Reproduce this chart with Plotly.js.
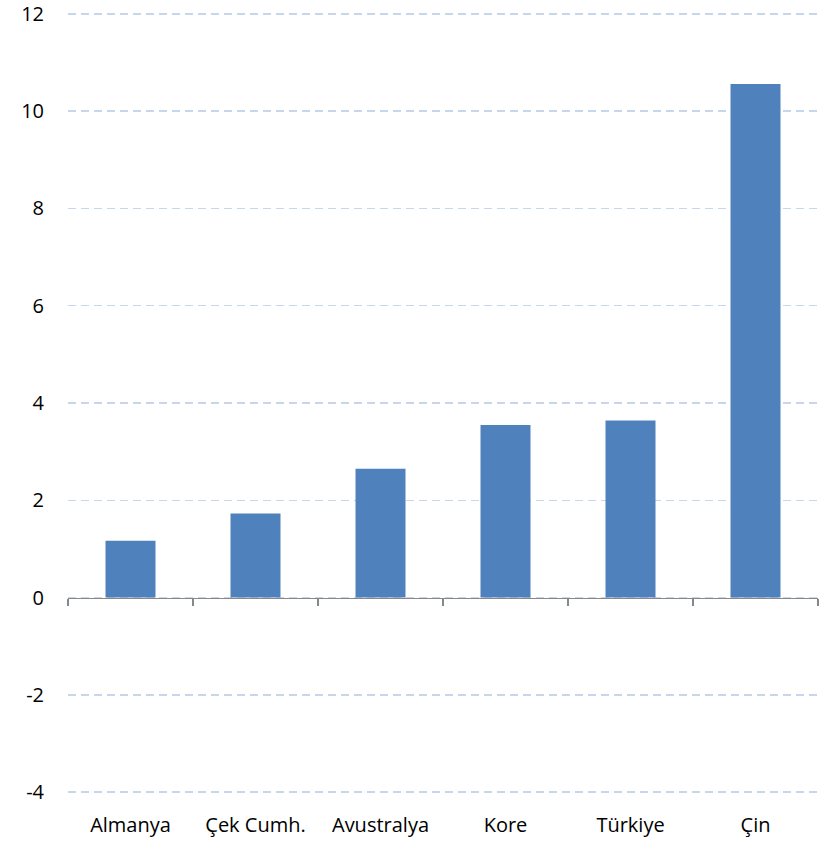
<!DOCTYPE html>
<html>
<head>
<meta charset="utf-8">
<script src="https://cdn.plot.ly/plotly-3.0.1.min.js"></script>
<style>html,body{margin:0;padding:0;background:#fff;}#chart{width:825px;height:843px;}</style>
</head>
<body>
<div id="chart"></div>
<script>
const categories = ["Almanya", "Çek Cumh.", "Avustralya", "Kore", "Türkiye", "Çin"];
const values = [1.17, 1.73, 2.65, 3.55, 3.64, 10.56];
const yTicks = [-4, -2, 0, 2, 4, 6, 8, 10, 12];

const yMin = -4.1, yMax = 12.1;
const fontFam = "'Open Sans', 'Noto Sans', sans-serif";

const traces = [
  {
    type: "bar",
    x: categories,
    y: values,
    marker: {color: "#4F81BD"},
    xaxis: "x",
    yaxis: "y",
    hoverinfo: "x+y"
  },
  {
    type: "scatter",
    mode: "markers",
    x: categories,
    y: values,
    marker: {opacity: 0},
    xaxis: "x2",
    yaxis: "y",
    hoverinfo: "skip",
    showlegend: false
  }
];

const layout = {
  width: 825,
  height: 843,
  margin: {l: 68, r: 7, t: 9, b: 46},
  paper_bgcolor: "#ffffff",
  plot_bgcolor: "#ffffff",
  showlegend: false,
  bargap: 0.6,
  font: {family: fontFam, size: 20, color: "#000000"},
  yaxis: {
    range: [yMin, yMax],
    tickvals: yTicks,
    ticktext: yTicks.map(String),
    showgrid: true,
    gridcolor: "#C6D6EC",
    gridwidth: 1.5,
    griddash: "8px,5px",
    zeroline: false,
    showline: false,
    ticks: "",
    ticklabelstandoff: 23,
    ticklabeloverflow: "allow",
    automargin: false,
    tickfont: {family: fontFam, size: 20, color: "#000000"}
  },
  xaxis: {
    type: "category",
    anchor: "free",
    position: (0 - yMin) / (yMax - yMin),
    showline: true,
    linecolor: "#888888",
    linewidth: 1.5,
    ticks: "outside",
    tickson: "boundaries",
    ticklen: 7,
    tickcolor: "#888888",
    tickwidth: 1.5,
    showticklabels: false,
    showgrid: false,
    zeroline: false
  },
  xaxis2: {
    type: "category",
    overlaying: "x",
    matches: "x",
    anchor: "y",
    side: "bottom",
    showline: false,
    ticks: "",
    showgrid: false,
    zeroline: false,
    ticklabelstandoff: 14,
    automargin: false,
    tickfont: {family: fontFam, size: 20, color: "#000000"}
  }
};

Plotly.newPlot("chart", traces, layout, {displayModeBar: false, staticPlot: true});
</script>
</body>
</html>
